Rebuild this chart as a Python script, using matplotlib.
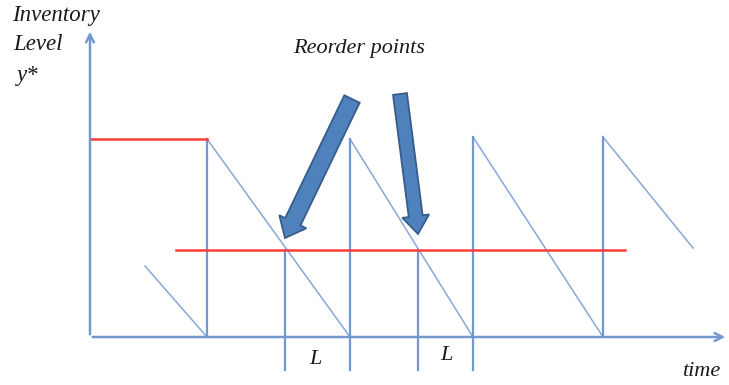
import numpy as np
import matplotlib.pyplot as plt
from matplotlib.patches import FancyArrow

# inventory over time (time and level in the same units)
y_star = 198          # order-up-to level
reorder_level = 87    # reorder point
arrival_t = [117, 260, 383, 513]      # replenishment arrivals
peak_level = [198, 198, 200, 200]
saw_t = [55, 117, 117, 260, 260, 383, 383, 513, 513, 603]
saw_level = [71, 0, 198, 0, 198, 0, 200, 0, 200, 89]
reorder_t = [195, 328]                # when level hits the reorder point
lead_end_t = [260, 383]               # order arrives after lead time L
red_top_t = [0, 117]
red_rop_t = [86, 535]

blue = '#7199d0'
red = '#ff3c3c'
arrow_fc = '#4f81bd'
arrow_ec = '#385d8a'
font = dict(family='Liberation Serif', style='italic', color='#1a1a1a')

fig = plt.figure(figsize=(7.29, 3.85), dpi=100)
ax = fig.add_axes([0, 0, 1, 1])
ax.set_xlim(-90, 639)
ax.set_ylim(-48, 337)
ax.axis('off')

# axes with arrow heads
ax.annotate('', xy=(0, 308), xytext=(0, 0),
            arrowprops=dict(arrowstyle='->', color=blue, lw=1.8, mutation_scale=14))
ax.annotate('', xy=(638, 0), xytext=(0, 0),
            arrowprops=dict(arrowstyle='->', color=blue, lw=1.8, mutation_scale=14))

# sawtooth: diagonals thin, vertical jumps heavier
for i in range(0, len(saw_t) - 1, 2):
    ax.plot(saw_t[i:i + 2], saw_level[i:i + 2], color=blue, lw=1.1, alpha=0.85)
for t, lv in zip(arrival_t, peak_level):
    lo = -33 if t in lead_end_t else 0
    ax.plot([t, t], [lo, lv], color=blue, lw=1.6)

# lead time markers
for t in reorder_t:
    ax.plot([t, t], [-33, reorder_level], color=blue, lw=1.6)

# order-up-to and reorder point lines
ax.plot(red_top_t, [y_star, y_star], color=red, lw=1.8)
ax.plot(red_rop_t, [reorder_level, reorder_level], color=red, lw=1.8)

# block arrows pointing at the reorder points
arrows = [((262, 238), (195, 99), 17, 30), ((310, 243), (328, 103), 14, 27)]
for (x0, y0), (x1, y1), w, hw in arrows:
    ax.add_patch(FancyArrow(x0, y0, x1 - x0, y1 - y0, width=w, head_width=hw,
                            head_length=18, length_includes_head=True,
                            fc=arrow_fc, ec=arrow_ec, lw=1.3))

ax.text(-78, 322, 'Inventory', fontsize=16.5, ha='left', va='center', **font)
ax.text(-77, 292, 'Level', fontsize=16.5, ha='left', va='center', **font)
ax.text(-73, 262, 'y*', fontsize=16.5, ha='left', va='center', **font)
ax.text(203, 289, 'Reorder points', fontsize=16, ha='left', va='center', **font)
ax.text(225, -23, 'L', fontsize=16, ha='center', va='center', **font)
ax.text(356, -19, 'L', fontsize=16, ha='center', va='center', **font)
ax.text(611, -35, 'time', fontsize=16, ha='center', va='center', **font)

fig.savefig('out.png', dpi=100)
